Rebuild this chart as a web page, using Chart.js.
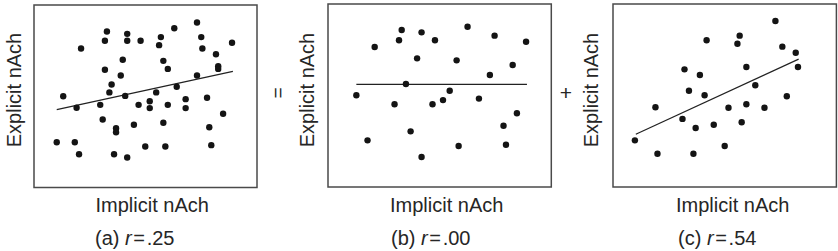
<!DOCTYPE html>
<html>
<head>
<meta charset="utf-8">
<script src="https://cdn.jsdelivr.net/npm/chart.js@4.4.0/dist/chart.umd.min.js"></script>
<style>
  body { margin: 0; background: #fff; }
  #wrap { position: relative; width: 838px; height: 251px; overflow: hidden; font-family: "Liberation Sans", Arial, sans-serif; color: #262626; }
  canvas { position: absolute; }
  .lbl { position: absolute; font-size: 20px; line-height: 20px; white-space: nowrap; }
  .rot { transform: translate(-50%, -50%) rotate(-90deg); }
  .mid { transform: translate(-50%, -50%); }
</style>
</head>
<body>
<div id="wrap">
  <canvas id="ca"></canvas>
  <canvas id="cb"></canvas>
  <canvas id="cc"></canvas>
</div>
<script>
// valores (escala 0-100 en ambos ejes)
const puntosA = [
  [13.1,50.0],[21.1,76.2],[10.2,24.8],[18.3,24.8],[20.2,18.2],[19.1,43.7],[32.7,85.5],[31.8,80.4],
  [31.8,64.5],[34.8,56.4],[33.8,52.1],[29.7,45.3],[30.8,37.3],[36.8,32.5],[36.8,30.3],[35.9,18.2],
  [41.8,84.2],[41.8,80.4],[39.8,70.0],[38.9,61.4],[40.9,50.2],[41.8,16.4],[47.8,80.4],[46.9,45.3],
  [44.8,34.4],[49.9,22.5],[51.9,47.3],[51.9,43.5],[54.8,52.1],[56.9,82.4],[56.1,78.0],[58.0,69.4],
  [60.0,65.0],[60.0,45.3],[58.0,35.5],[58.9,22.5],[62.9,87.3],[64.0,55.2],[68.0,48.4],[68.0,43.5],
  [73.1,90.4],[75.0,82.4],[75.5,76.2],[73.1,61.4],[77.6,49.2],[78.6,33.0],[79.5,23.2],[81.6,73.0],
  [82.6,66.5],[82.6,65.0],[84.8,40.4],[88.8,79.3]
];
const puntosB = [
  [12.7,50.1],[17.7,25.5],[20.9,76.5],[29.8,45.2],[31.8,80.2],[33.0,85.8],[34.9,56.3],[37.0,30.4],
  [39.9,70.3],[41.9,84.5],[41.9,16.4],[46.8,45.2],[47.9,80.2],[51.5,47.5],[54.5,52.6],[57.6,69.2],
  [58.5,22.4],[62.5,87.6],[67.6,48.3],[72.5,61.2],[74.6,82.7],[78.6,33.5],[79.7,23.1],[82.7,66.7],
  [84.6,40.3],[88.7,79.4]
];
const puntosC = [
  [9.8,25.5],[19.0,43.6],[19.9,18.2],[31.1,37.2],[32.0,64.3],[34.0,52.6],[36.0,18.2],[37.0,32.2],
  [38.9,61.2],[41.0,50.1],[41.9,80.2],[45.1,34.0],[50.0,22.4],[51.7,43.3],[55.7,78.3],[56.7,82.7],
  [57.6,35.4],[59.7,65.6],[59.7,45.2],[63.7,55.6],[67.8,43.3],[72.7,90.7],[75.8,76.7],[77.8,49.6],
  [81.8,73.4],[82.8,65.6]
];
// rectas de regresion (extremos)
const rectaA = [[10.2,42.7],[89.2,63.6]];
const rectaB = [[12.7,56.1],[89.1,56.1]];
const rectaC = [[10.2,28.8],[83.1,69.9]];

const tituloX = "Implicit nAch";
const tituloY = "Explicit nAch";
const letras = ["(a)", "(b)", "(c)"];
const valoresR = [".25", ".00", ".54"];

// marco alrededor del area del grafico
const marco = {
  id: 'marco',
  afterDraw(chart) {
    const a = chart.chartArea;
    const ctx = chart.ctx;
    ctx.save();
    ctx.strokeStyle = '#4a4a4a';
    ctx.lineWidth = 1.5;
    ctx.strokeRect(a.left, a.top, a.right - a.left, a.bottom - a.top);
    ctx.restore();
  }
};

const toXY = arr => arr.map(p => ({x: p[0], y: p[1]}));

// posicion de cada panel: caja, titulos
const paneles = [
  {id: 'ca', puntos: puntosA, recta: rectaA, box: [34, 4.5, 257, 187], yT: 14.3, xT: 95.5, cap: 95},
  {id: 'cb', puntos: puntosB, recta: rectaB, box: [327.7, 4, 551, 187], yT: 306.6, xT: 390, cap: 391},
  {id: 'cc', puntos: puntosC, recta: rectaC, box: [613.3, 4, 836.7, 187], yT: 591.3, xT: 676, cap: 678}
];

const wrap = document.getElementById('wrap');
const pad = 4;

paneles.forEach((p, i) => {
  const c = document.getElementById(p.id);
  const w = p.box[2] - p.box[0] + pad * 2;
  const h = p.box[3] - p.box[1] + pad * 2;
  c.width = Math.round(w);
  c.height = Math.round(h);
  c.style.left = (p.box[0] - pad) + 'px';
  c.style.top = (p.box[1] - pad) + 'px';

  new Chart(c.getContext('2d'), {
    type: 'scatter',
    data: {
      datasets: [{
        data: toXY(p.puntos),
        backgroundColor: '#141414',
        borderWidth: 0,
        pointRadius: 3.2,
        pointHoverRadius: 3.2
      }, {
        type: 'line',
        data: toXY(p.recta),
        borderColor: '#222',
        borderWidth: 1.2,
        pointRadius: 0,
        fill: false
      }]
    },
    options: {
      responsive: false,
      animation: false,
      devicePixelRatio: 1,
      layout: { padding: { left: pad, top: pad, right: c.width - w + pad, bottom: c.height - h + pad } },
      plugins: { legend: { display: false }, tooltip: { enabled: false } },
      events: [],
      scales: {
        x: { type: 'linear', min: 0, max: 100, display: false },
        y: { type: 'linear', min: 0, max: 100, display: false }
      }
    },
    plugins: [marco]
  });

  // titulo eje y (rotado)
  const ty = document.createElement('div');
  ty.className = 'lbl rot';
  ty.textContent = tituloY;
  ty.style.left = p.yT + 'px';
  ty.style.top = '89.5px';
  wrap.appendChild(ty);

  // titulo eje x
  const tx = document.createElement('div');
  tx.className = 'lbl';
  tx.textContent = tituloX;
  tx.style.left = p.xT + 'px';
  tx.style.top = '195px';
  wrap.appendChild(tx);

  // leyenda inferior
  const cp = document.createElement('div');
  cp.className = 'lbl';
  cp.innerHTML = letras[i] + ' <i>r</i>&#8202;=&#8202;' + valoresR[i];
  cp.style.left = p.cap + 'px';
  cp.style.top = '228px';
  wrap.appendChild(cp);
});

// signos entre paneles
const igual = document.createElement('div');
igual.className = 'lbl rot';
igual.style.fontSize = '19px';
igual.textContent = '=';
igual.style.left = '278px';
igual.style.top = '93px';
wrap.appendChild(igual);

const mas = document.createElement('div');
mas.className = 'lbl mid';
mas.style.fontSize = '21px';
mas.textContent = '+';
mas.style.left = '566px';
mas.style.top = '93px';
wrap.appendChild(mas);
</script>
</body>
</html>
